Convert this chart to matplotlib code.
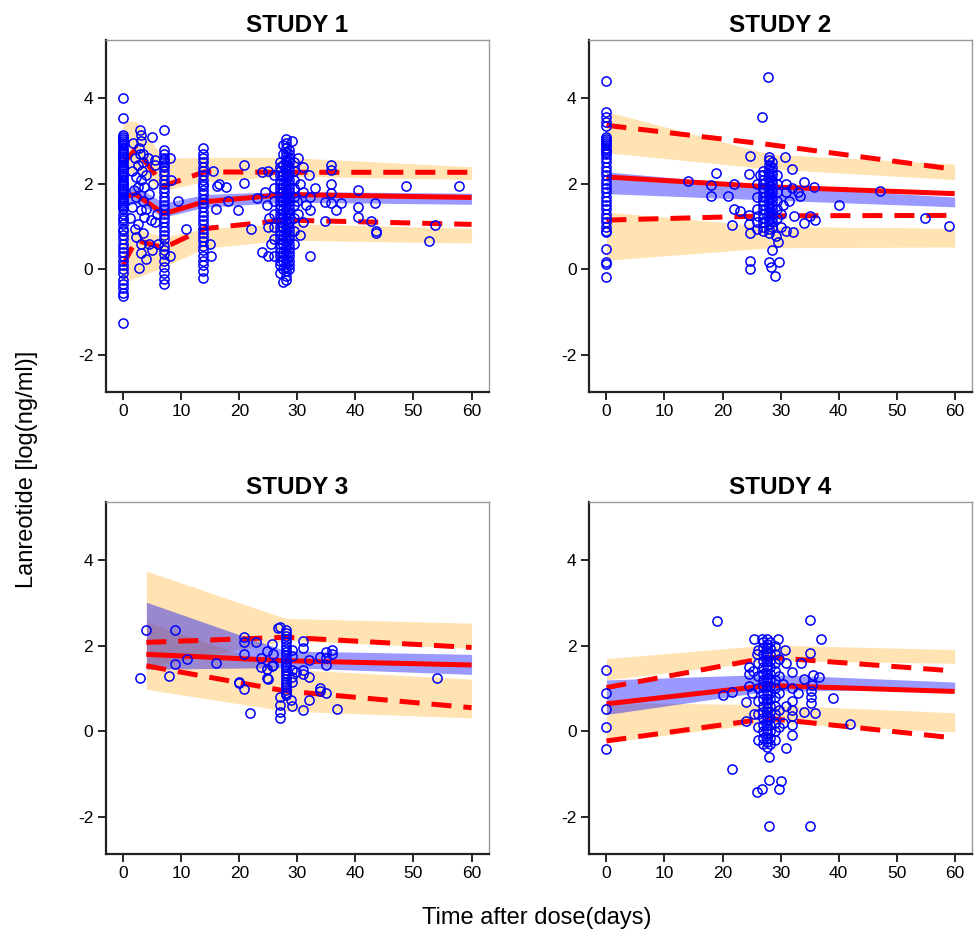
import numpy as np
import matplotlib
matplotlib.use("Agg")
import matplotlib.pyplot as plt

plt.rcParams['font.family'] = ['Liberation Sans', 'DejaVu Sans']
plt.rcParams['axes.unicode_minus'] = False

TITLES = ["STUDY 1", "STUDY 2", "STUDY 3", "STUDY 4"]

# ---- VPC summaries per study (bin times, observed percentiles, simulated CIs)
S1_T = [0, 2.2, 7, 14, 28, 60]
S1_MED = [1.70, 1.75, 1.30, 1.58, 1.75, 1.68]
S1_P95 = [2.47, 2.82, 1.95, 2.28, 2.27, 2.27]
S1_P05 = [0.10, 0.68, 0.50, 0.95, 1.15, 1.05]
S1_P95_CI = ([2.20, 2.30, 1.85, 2.05, 2.18, 2.10], [3.47, 3.47, 2.60, 2.62, 2.62, 2.40])
S1_MED_CI = ([1.45, 1.55, 1.22, 1.45, 1.57, 1.52], [1.88, 1.95, 1.55, 1.75, 1.82, 1.78])
S1_P05_CI = ([-0.30, -0.20, 0.05, 0.49, 0.68, 0.61], [0.90, 0.95, 0.75, 0.95, 1.07, 0.96])

S2_T = [0, 28, 60]
S2_MED = [2.16, 1.93, 1.77]
S2_P95 = [3.37, 2.92, 2.34]
S2_P05 = [1.15, 1.25, 1.26]
S2_P95_CI = ([2.73, 2.35, 2.10], [3.69, 2.70, 2.46])
S2_MED_CI = ([1.77, 1.62, 1.46], [2.28, 1.94, 1.69])
S2_P05_CI = ([0.21, 0.50, 0.52], [1.34, 1.00, 0.96])

S3_T = [4, 28, 60]
S3_MED = [1.80, 1.65, 1.55]
S3_P95 = [2.08, 2.20, 1.96]
S3_P05 = [1.53, 0.94, 0.55]
S3_P95_CI = ([1.50, 2.12, 1.94], [3.75, 2.64, 2.53])
S3_MED_CI = ([1.45, 1.49, 1.33], [3.02, 1.88, 1.80])
S3_P05_CI = ([0.98, 0.47, 0.31], [2.56, 1.45, 1.22])

S4_T = [0, 28, 60]
S4_MED = [0.64, 1.07, 0.93]
S4_P95 = [1.02, 1.73, 1.41]
S4_P05 = [-0.23, 0.30, -0.16]
S4_P95_CI = ([1.20, 1.65, 1.59], [1.70, 2.02, 1.91])
S4_MED_CI = ([0.39, 0.94, 0.98], [1.20, 1.33, 1.15])
S4_P05_CI = ([-0.26, 0.20, -0.02], [0.67, 0.62, 0.43])

# ---- observations: nominal-time columns {time: [conc]} plus scattered (time, conc)
S1_COLS = {
    0: [4.02, 3.55, 3.15, 3.1, 3.05, 3.0, 2.95, 2.9, 2.85, 2.8, 2.75, 2.7, 2.65, 2.6,
        2.55, 2.5, 2.45, 2.4, 2.35, 2.3, 2.25, 2.2, 2.15, 2.1, 2.05, 2.0, 1.95, 1.9,
        1.85, 1.8, 1.75, 1.7, 1.65, 1.6, 1.55, 1.5, 1.45, 1.4, 1.3, 1.2, 1.15, 1.05,
        0.95, 0.9, 0.8, 0.7, 0.6, 0.5, 0.4, 0.3, 0.2, 0.1, 0.0, -0.1, -0.25, -0.35,
        -0.45, -0.55, -0.62, -1.25],
    7: [3.27, 2.8, 2.7, 2.6, 2.55, 2.5, 2.45, 2.4, 2.3, 2.2, 2.1, 2.0, 1.9, 1.8, 1.7,
        1.6, 1.5, 1.4, 1.3, 1.2, 1.1, 1.0, 0.9, 0.8, 0.7, 0.55, 0.45, 0.35, 0.2, 0.05,
        -0.1, -0.22, -0.34],
    13.8: [2.83, 2.7, 2.6, 2.5, 2.4, 2.3, 2.2, 2.1, 2.0, 1.95, 1.85, 1.75, 1.65, 1.55,
           1.45, 1.35, 1.25, 1.15, 1.05, 0.95, 0.85, 0.75, 0.65, 0.55, 0.45, 0.3, 0.2,
           0.1, -0.05, -0.2],
    26: [2.2, 1.9, 1.6, 1.3, 1.0, 0.7, 0.3],
    27: [2.5, 2.4, 2.3, 2.2, 2.1, 2.0, 1.9, 1.8, 1.7, 1.6, 1.5, 1.4, 1.3, 1.2, 1.1, 1.0,
         0.9, 0.8, 0.7, 0.6, 0.5, 0.4, 0.3, 0.2, 0.1, -0.1],
    27.5: [2.9, 2.7, 2.45, 2.2, 2.0, 1.8, 1.6, 1.4, 1.2, 1.0, 0.8, 0.6, 0.4, 0.2, 0.0,
           -0.3],
    28: [3.06, 2.95, 2.85, 2.75, 2.65, 2.55, 2.45, 2.35, 2.25, 2.15, 2.05, 1.95, 1.85,
         1.75, 1.65, 1.55, 1.45, 1.35, 1.25, 1.15, 1.05, 0.95, 0.85, 0.75, 0.65, 0.55,
         0.45, 0.35, 0.25, 0.15, 0.05, -0.05, -0.15, -0.25],
    28.5: [2.8, 2.7, 2.6, 2.5, 2.4, 2.3, 2.2, 2.1, 2.0, 1.9, 1.8, 1.7, 1.6, 1.5, 1.4,
           1.3, 1.2, 1.1, 1.0, 0.9, 0.8, 0.7, 0.6, 0.5, 0.4, 0.3, 0.2, 0.1, 0.0],
    29.5: [2.5, 2.3, 2.1, 1.9, 1.7, 1.5, 1.2, 0.9, 0.6],
}
S1_PTS = [
    (1.7, 2.95), (2.9, 3.26), (3.0, 3.14), (3.0, 3.0), (2.8, 2.85), (2.9, 2.7),
    (4.9, 3.09), (2.0, 2.6), (3.5, 2.5), (1.5, 2.3), (2.2, 2.16), (3.0, 2.08),
    (4.0, 2.2), (2.5, 1.93), (3.6, 1.93), (1.8, 1.85), (2.2, 1.7), (3.5, 1.6),
    (4.5, 1.75), (1.6, 1.46), (3.0, 1.38), (3.6, 1.23), (2.5, 1.07), (4.8, 1.15),
    (2.0, 0.95), (3.5, 0.85), (2.2, 0.76), (3.0, 0.6), (4.5, 0.6), (3.0, 0.37),
    (5.0, 0.45), (2.8, 0.02), (4.0, 0.25), (2.5, 2.45), (3.2, 2.3), (4.2, 2.6),
    (5.5, 2.45), (5.2, 2.0), (1.2, 1.2), (4.0, 1.4), (5.5, 1.1), (3.4, 2.7),
    (8.0, 2.6), (8.2, 2.1), (9.5, 1.6), (10.8, 0.95), (5.8, 1.3), (6.0, 0.6),
    (8.0, 0.3), (5.5, 2.55),
    (15.0, 0.6), (15.2, 0.3), (16.0, 1.4), (16.1, 1.95), (17.8, 1.93), (20.8, 2.45),
    (20.8, 2.03), (19.8, 1.39), (22.0, 0.93), (24.0, 0.4), (23.0, 1.66), (24.0, 2.27),
    (15.5, 2.3), (16.5, 2.0), (18.0, 1.6),
    (32.2, 0.3), (32.2, 1.39), (32.2, 1.69), (32.0, 2.2), (35.8, 2.45), (35.8, 2.33),
    (35.8, 1.99), (35.8, 1.78), (34.7, 1.58), (35.8, 1.55), (36.6, 1.38), (37.5, 1.54),
    (34.7, 1.13), (40.4, 1.86), (40.4, 1.46), (40.4, 1.22), (42.7, 1.13), (43.3, 1.54),
    (43.5, 0.9), (43.5, 0.84), (48.7, 1.94), (53.7, 1.04), (52.6, 0.67), (57.8, 1.94),
    (31.0, 1.8), (31.0, 2.4), (30.5, 2.0), (31.5, 1.5), (31.0, 1.1), (30.5, 0.8),
    (29.0, 3.0), (25.0, 0.3), (33.0, 1.9), (24.5, 1.8), (24.8, 1.5), (25.2, 1.2),
    (25.0, 1.0), (25.5, 0.6), (25.0, 2.3), (30.2, 2.6), (30.0, 1.6), (30.2, 1.3),
]

S2_COLS = {
    0: [4.41, 3.68, 3.56, 3.45, 3.35, 3.1, 3.05, 3.0, 2.95, 2.9, 2.85, 2.8, 2.75, 2.7,
        2.6, 2.5, 2.4, 2.3, 2.2, 2.1, 2.0, 1.9, 1.8, 1.7, 1.6, 1.5, 1.4, 1.3, 1.2, 1.1,
        1.0, 0.9, 0.86, 0.48, 0.16, 0.12, -0.19],
    26: [2.0, 1.7, 1.4, 1.1, 0.95],
    27: [2.3, 2.2, 2.1, 2.0, 1.9, 1.8, 1.7, 1.6, 1.5, 1.4, 1.3, 1.2, 1.1, 1.0, 0.9],
    28: [2.62, 2.55, 2.45, 2.35, 2.25, 2.15, 2.05, 1.95, 1.85, 1.75, 1.65, 1.55, 1.45,
         1.35, 1.25, 1.15, 1.05, 0.95, 0.85],
    28.6: [2.5, 2.4, 2.3, 2.2, 2.1, 2.0, 1.9, 1.8, 1.7, 1.6, 1.5, 1.4, 1.3, 1.2, 1.1,
           1.0],
    29.4: [2.2, 2.0, 1.8, 1.6, 1.4, 1.2],
}
S2_PTS = [
    (14, 2.07), (18, 1.97), (18, 1.71), (18.8, 2.26), (21, 1.71), (22, 2.0), (22, 1.42),
    (23, 1.37), (21.6, 1.03), (24.8, 2.65), (24.6, 2.23), (24.6, 1.26), (24.6, 1.07),
    (24.8, 0.85), (24.8, 0.19), (24.8, 0.01), (26.8, 3.57), (27.8, 4.5), (28, 0.16),
    (28.3, 0.05), (29, -0.16), (29.2, 0.78), (29.8, 0.17), (30.8, 2.62), (32, 2.34),
    (34, 2.05), (35.7, 1.93), (33.4, 1.71), (32.3, 1.24), (34, 1.09), (35, 1.24),
    (36, 1.16), (32.2, 0.87), (29.5, 0.63), (28.5, 0.44), (40, 1.51), (47.2, 1.83),
    (54.8, 1.2), (59.1, 1.02), (31, 2.0), (31, 1.8), (30.5, 1.5), (31.5, 1.6), (30, 1.3),
    (32, 1.9), (33, 1.8), (30, 1.0), (31, 0.9), (26.2, 1.25), (26.5, 2.2),
]

S3_COLS = {
    28: [2.38, 2.3, 2.22, 2.15, 2.08, 2.0, 1.92, 1.85, 1.78, 1.7, 1.63, 1.56, 1.5, 1.43,
         1.36, 1.3, 1.23, 1.16, 1.1, 1.03, 0.96, 0.9, 0.84],
}
S3_PTS = [
    (4.0, 2.37), (2.9, 1.24), (9.0, 2.37), (9.0, 1.57), (11.0, 1.70), (7.9, 1.29),
    (16.0, 1.60), (20.8, 2.20), (20.8, 2.08), (22.9, 2.08), (20.8, 1.81), (20.0, 1.12),
    (20.9, 0.98), (21.8, 0.43), (23.8, 1.72), (23.8, 1.50), (24.7, 1.88), (24.7, 1.45),
    (24.7, 1.24), (25.6, 2.05), (25.6, 1.52), (26.6, 2.42), (27.0, 0.79), (27.0, 0.44),
    (28.9, 0.74), (29.0, 1.27), (29.0, 1.9), (25.8, 1.81), (25.8, 1.55), (25.0, 1.22),
    (20.0, 1.16), (27.0, 2.45), (27.0, 0.30), (27.0, 0.61), (29.0, 1.75), (29.0, 1.15),
    (29.0, 0.58), (29.0, 1.43), (29.8, 1.39), (30.9, 2.12), (30.9, 1.94), (30.9, 1.43),
    (30.9, 1.35), (32.0, 1.67), (32.0, 1.26), (32.0, 0.72), (30.9, 0.50), (33.9, 1.73),
    (33.9, 1.02), (33.9, 0.94), (35.0, 1.86), (35.0, 1.71), (35.0, 1.55), (35.9, 1.90),
    (35.9, 1.81), (35.0, 0.90), (36.9, 0.53), (54.0, 1.25),
]

S4_COLS = {
    0: [1.43, 0.89, 0.53, 0.10, -0.41],
    26.2: [1.9, 1.6, 1.3, 1.0, 0.7, 0.4, 0.1, -0.2],
    27: [2.1, 1.95, 1.8, 1.65, 1.5, 1.35, 1.2, 1.05, 0.9, 0.75, 0.6, 0.45, 0.3, 0.15,
         0.0, -0.15, -0.3],
    27.6: [2.16, 2.05, 1.95, 1.85, 1.75, 1.65, 1.55, 1.45, 1.35, 1.25, 1.15, 1.05, 0.95,
           0.85, 0.75, 0.65, 0.55, 0.45, 0.35, 0.25, 0.15, 0.05, -0.05, -0.15, -0.25,
           -0.38],
    28.2: [2.1, 1.95, 1.8, 1.65, 1.5, 1.35, 1.2, 1.05, 0.9, 0.75, 0.6, 0.45, 0.3, 0.15,
           0.0, -0.15, -0.3],
    29: [2.0, 1.8, 1.6, 1.4, 1.2, 1.0, 0.8, 0.6, 0.4, 0.2, 0.0, -0.2],
    29.8: [1.7, 1.3, 0.9, 0.5, 0.1],
}
S4_PTS = [
    (19, 2.57), (20, 0.84), (21.7, 0.92), (21.7, -0.88), (24, 0.68), (24, 0.24),
    (24.6, 1.50), (24.6, 1.33), (24.6, 1.05), (26, -1.43), (26.8, -1.36), (28, -1.15),
    (28, -2.22), (28, -0.60), (29.7, -1.36), (35, 2.60), (37, 2.17), (35, 1.82),
    (32, 1.39), (34, 1.22), (35.6, 1.31), (36.6, 1.27), (35.5, 1.08), (35.3, 0.94),
    (35.3, 0.79), (35.3, 0.67), (39, 0.78), (34, 0.44), (35.9, 0.42), (42, 0.17),
    (32, 1.0), (32, 0.7), (32, 0.5), (32, 0.35), (32, 0.15), (32, -0.1), (31, -0.39),
    (30, -1.17), (35, -2.22), (30.5, 0.2), (31, 0.6), (30.5, 1.1), (31, 1.6),
    (30.8, 1.9), (29.5, 2.16), (25.5, 2.16), (26.8, 2.16), (25.0, 0.9), (25.5, 0.4),
    (26.0, 1.8), (25.2, 1.4), (33.0, 0.9), (33.5, 1.6),
]

STUDIES = [
    (S1_T, S1_MED, S1_P95, S1_P05, S1_P95_CI, S1_MED_CI, S1_P05_CI, S1_COLS, S1_PTS),
    (S2_T, S2_MED, S2_P95, S2_P05, S2_P95_CI, S2_MED_CI, S2_P05_CI, S2_COLS, S2_PTS),
    (S3_T, S3_MED, S3_P95, S3_P05, S3_P95_CI, S3_MED_CI, S3_P05_CI, S3_COLS, S3_PTS),
    (S4_T, S4_MED, S4_P95, S4_P05, S4_P95_CI, S4_MED_CI, S4_P05_CI, S4_COLS, S4_PTS),
]

POSITIONS = [
    [0.1083, 0.5824, 0.3927, 0.3750],
    [0.6035, 0.5824, 0.3925, 0.3750],
    [0.1083, 0.0899, 0.3927, 0.3750],
    [0.6035, 0.0899, 0.3925, 0.3750],
]

fig = plt.figure(figsize=(9.76, 9.38), dpi=100)

for title, pos, study in zip(TITLES, POSITIONS, STUDIES):
    t, med, p95, p05, p95_ci, med_ci, p05_ci, cols, pts = study
    ax = fig.add_axes(pos)

    # simulated confidence bands
    ax.fill_between(t, *p95_ci, color="#FFA500", alpha=0.3, lw=0, zorder=1)
    ax.fill_between(t, *p05_ci, color="#FFA500", alpha=0.3, lw=0, zorder=1)
    ax.fill_between(t, *med_ci, color="#0000FF", alpha=0.4, lw=0, zorder=2)

    # observed percentiles
    ax.plot(t, med, color="red", lw=3.6, solid_capstyle="butt", zorder=3)
    for q in (p95, p05):
        ax.plot(t, q, color="red", lw=3.6, dashes=(4, 2.4), dash_capstyle="butt", zorder=3)

    # observations
    ox = [tt for tt, ys in cols.items() for _ in ys] + [p[0] for p in pts]
    oy = [y for ys in cols.values() for y in ys] + [p[1] for p in pts]
    ax.plot(ox, oy, ls="none", marker="o", ms=6.6, mfc="none", mec="#0000FF",
            mew=1.1, zorder=4)

    ax.set_xlim(-3, 63)
    ax.set_ylim(-2.87, 5.37)
    ax.set_xticks(range(0, 61, 10))
    ax.set_yticks([-2, 0, 2, 4])
    ax.tick_params(direction="out", length=6, width=1.2, labelsize=12.5, pad=3)
    for side in ("left", "bottom"):
        ax.spines[side].set_linewidth(1.6)
        ax.spines[side].set_color("#222222")
    for side in ("top", "right"):
        ax.spines[side].set_linewidth(1.0)
        ax.spines[side].set_color("#999999")
    ax.set_title(title, fontsize=17.5, fontweight="bold", pad=6)

fig.text(0.028, 0.5, "Lanreotide [log(ng/ml)]", rotation=90, fontsize=17,
         ha="center", va="center")
fig.text(0.55, 0.021, "Time after dose(days)", fontsize=17, ha="center", va="center")

fig.savefig("out.png", dpi=100)
